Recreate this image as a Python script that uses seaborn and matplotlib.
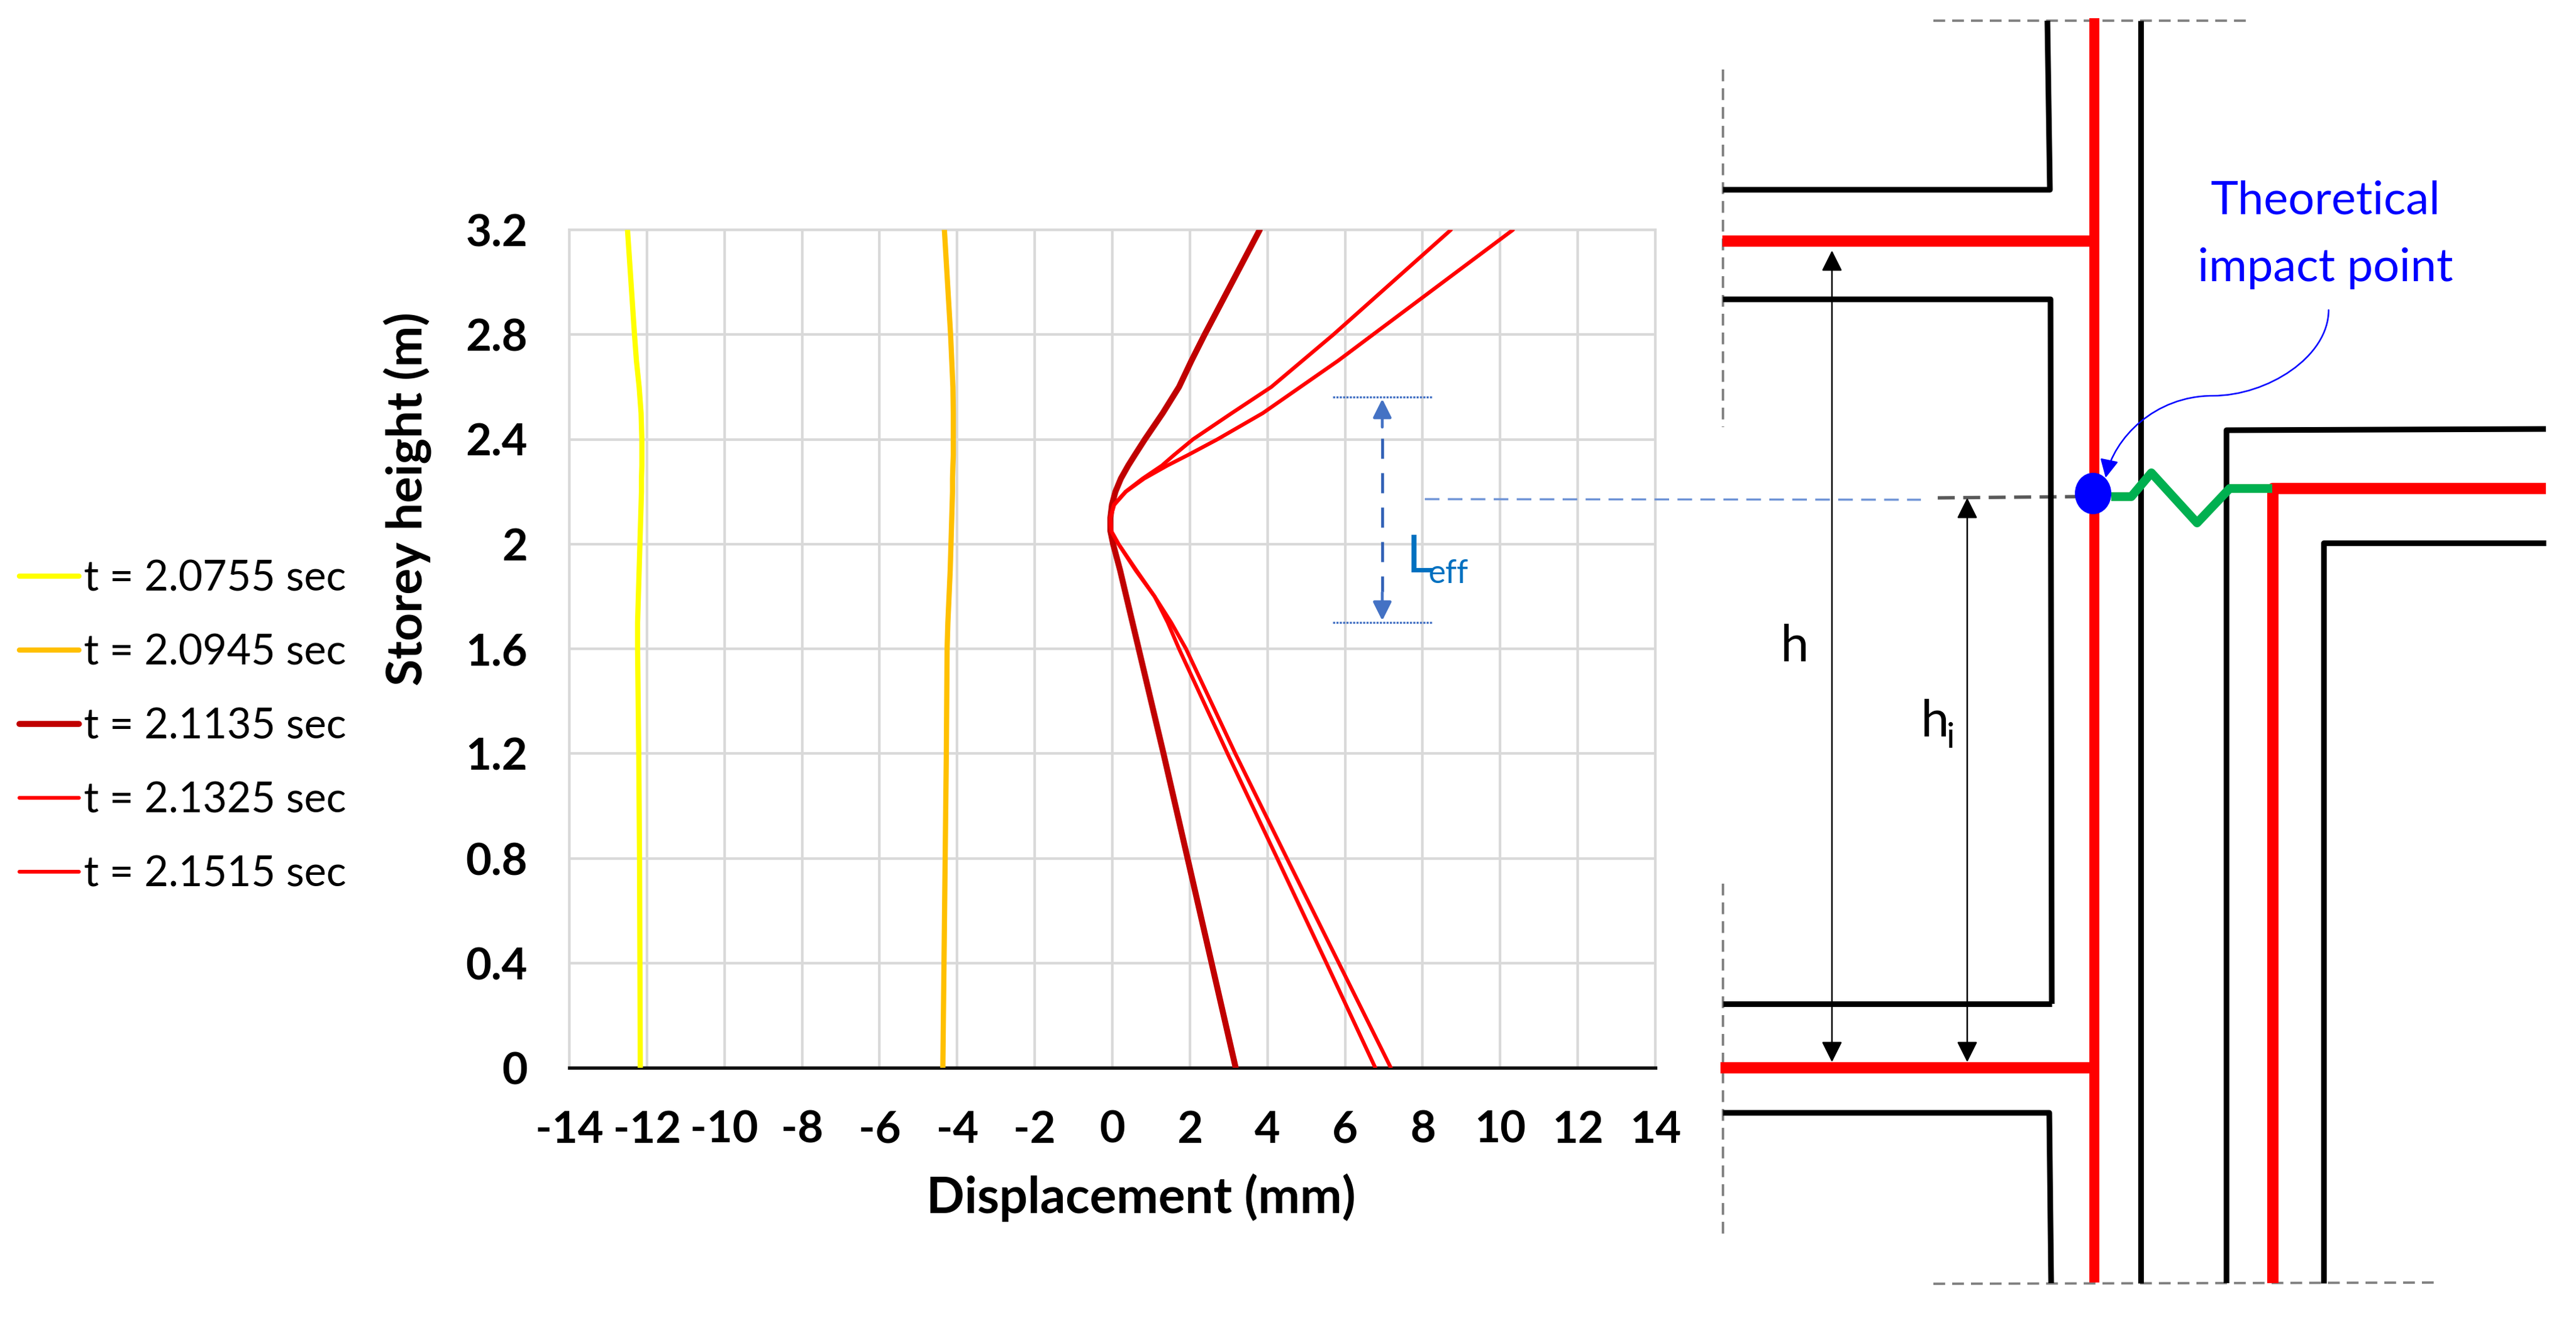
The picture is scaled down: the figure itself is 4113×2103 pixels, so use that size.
import pandas as pd
import matplotlib
matplotlib.use('Agg')
import matplotlib.pyplot as plt
from matplotlib.patches import Ellipse, FancyArrowPatch, Path
import seaborn as sns

# datos
heights = [3.2, 2.8, 2.7, 2.6, 2.5, 2.4, 2.34, 2.3, 2.25, 2.2, 2.15, 2.1, 2.05, 2.0, 1.9, 1.8, 1.7, 1.6, 1.2, 0.8, 0.4, 0]
disp_20755 = [-12.5, -12.32, -12.27, -12.2, -12.15, -12.13, -12.13, -12.13, -12.14, -12.14, -12.15, -12.16, -12.17, -12.18, -12.2, -12.22, -12.24, -12.24, -12.21, -12.19, -12.18, -12.17]
disp_20945 = [-4.33, -4.17, -4.14, -4.11, -4.1, -4.1, -4.1, -4.11, -4.12, -4.12, -4.13, -4.14, -4.15, -4.16, -4.18, -4.21, -4.24, -4.26, -4.28, -4.31, -4.34, -4.37]
disp_21135 = [3.8, 2.38, 2.04, 1.72, 1.3, 0.84, 0.58, 0.41, 0.22, 0.08, -0.01, -0.05, -0.05, 0.02, 0.2, 0.36, 0.52, 0.68, 1.32, 1.94, 2.56, 3.18]
disp_21325 = [8.73, 5.7, 4.9, 4.1, 3.08, 2.08, 1.59, 1.28, 0.78, 0.34, 0.04, -0.05, -0.03, 0.16, 0.6, 1.09, 1.43, 1.72, 2.97, 4.25, 5.52, 6.78]
disp_21515 = [10.33, 6.72, 5.82, 4.85, 3.88, 2.71, 1.95, 1.42, 0.82, 0.35, 0.05, -0.05, -0.03, 0.16, 0.62, 1.09, 1.52, 1.9, 3.17, 4.5, 5.84, 7.18]

series_labels = ['t = 2.0755 sec', 't = 2.0945 sec', 't = 2.1135 sec', 't = 2.1325 sec', 't = 2.1515 sec']
series_colors = ['#FFFF00', '#FFC000', '#C00000', '#FF0000', '#FF0000']
series_widths = [2.0, 2.0, 2.3, 1.45, 1.45]

x_ticks = list(range(-14, 15, 2))
y_ticks = [0, 0.4, 0.8, 1.2, 1.6, 2, 2.4, 2.8, 3.2]
y_tick_labels = ['0', '0.4', '0.8', '1.2', '1.6', '2', '2.4', '2.8', '3.2']

W, H = 4113, 2103
sns.set_style('whitegrid', {'grid.color': '#D9D9D9', 'axes.edgecolor': '#D9D9D9'})
plt.rcParams['font.family'] = ['Lato', 'DejaVu Sans']
plt.rcParams['axes.unicode_minus'] = False

fig = plt.figure(figsize=(W / 300, H / 300), dpi=300)
# ejes de la grafica, colocados en pixeles de la imagen
ax = fig.add_axes([909 / W, 1 - 1705 / H, (2643 - 909) / W, (1705 - 367) / H])

all_disp = [disp_20755, disp_20945, disp_21135, disp_21325, disp_21515]
for d, lab, c, lw in zip(all_disp, series_labels, series_colors, series_widths):
    df = pd.DataFrame({'disp': d, 'height': heights})
    sns.lineplot(data=df, x='disp', y='height', sort=False, estimator=None, color=c, lw=lw,
                 label=lab, ax=ax, zorder=3, solid_joinstyle='round')

ax.set_xlim(-14, 14)
ax.set_ylim(0, 3.2)
ax.set_xticks(x_ticks)
ax.set_xticklabels([str(v) for v in x_ticks])
ax.set_yticks(y_ticks)
ax.set_yticklabels(y_tick_labels)
ax.grid(True, lw=1.0)
ax.tick_params(axis='both', length=0, labelsize=17)
ax.tick_params(axis='x', pad=16)
ax.tick_params(axis='y', pad=16)
for t in ax.get_xticklabels() + ax.get_yticklabels():
    t.set_fontweight('bold')
    t.set_color('black')
for s in ['left', 'right', 'top']:
    ax.spines[s].set_linewidth(1.0)
ax.spines['bottom'].set_color('#111111')
ax.spines['bottom'].set_linewidth(1.3)

ax.set_xlabel('Displacement (mm)', fontsize=19.2, fontweight='bold', color='black', ha='center', va='center')
ax.set_ylabel('Storey height (m)', fontsize=18.8, fontweight='bold', color='black', ha='center', va='center')
ax.xaxis.set_label_coords((1822 - 909) / 1734, -(1912 - 1705) / 1338)
ax.yaxis.set_label_coords((651 - 909) / 1734, 1 - (797 - 367) / 1338)

leg = ax.legend(loc='upper left', bbox_to_anchor=(31 / W, 1 - 893 / H), bbox_transform=fig.transFigure,
                frameon=False, fontsize=16, handlelength=1.42, handletextpad=0.12, labelspacing=0.84,
                borderpad=0, borderaxespad=0)
for t in leg.get_texts():
    t.set_color('black')

# esquema estructural, dibujado en pixeles de la imagen
ov = fig.add_axes([0, 0, 1, 1], zorder=5)
ov.set_xlim(0, W)
ov.set_ylim(H, 0)
ov.axis('off')
ov.patch.set_alpha(0)
PX = 0.24


def seg(xs, ys, color='black', px=9, **kw):
    ov.plot(xs, ys, color=color, lw=px * PX, solid_capstyle=kw.pop('cap', 'butt'), **kw)


# lineas grises de corte
for xs, ys in [([3087, 3590], [33, 33]), ([3087, 3891], [2050, 2048]),
               ([2751, 2751], [111, 682]), ([2751, 2751], [1411, 1981])]:
    ov.plot(xs, ys, color='#7F7F7F', lw=0.9, ls=(0, (5, 3)))
ov.plot([3094, 3317], [795, 793], color='#595959', lw=1.3, ls=(0, (5, 2.5)))
ov.plot([2275, 3067], [797, 798], color='#6E93D6', lw=0.8, ls=(0, (7, 4)))

# muros y vigas
seg([3269, 3273, 2751], [33, 303, 303])
seg([2751, 3274, 3276], [478, 478, 1603])
seg([3276, 2751], [1603, 1603])
seg([2751, 3272, 3275], [1777, 1777, 2049])
seg([3418, 3418], [33, 2049])
seg([4065, 3555, 3555], [685, 687, 2049])
seg([4065, 3710, 3710], [867, 867, 2049])
seg([2750, 3344], [385, 385], color='#FF0000', px=18)
seg([2747, 3344], [1705, 1705], color='#FF0000', px=18)
seg([3344, 3344], [29, 2048], color='#FF0000', px=16)
seg([4065, 3629, 3629], [780, 780, 2049], color='#FF0000', px=18)

# muelle e impacto
seg([3371, 3403, 3435, 3508, 3560, 3628], [793, 793, 755, 835, 780, 780], color='#00B050', px=14)
ov.add_patch(Ellipse((3342, 788), 54, 62, color='#0000FF', zorder=6))

# flechas h y hi
for x, top in [(2925, 400), (3141, 795)]:
    ov.annotate('', xy=(x, top), xytext=(x, 1696),
                arrowprops=dict(arrowstyle='<|-|>', color='black', lw=0.6, mutation_scale=17, shrinkA=0, shrinkB=0))
ov.text(2842, 1056, 'h', fontsize=19.5, color='black', va='baseline')
ov.text(3066, 1176, 'h', fontsize=19.5, color='black', va='baseline')
ov.text(3108, 1194, 'i', fontsize=13.5, color='black', va='baseline')

# longitud efectiva
for y in [634, 994]:
    ov.plot([2128, 2286], [y, y], color='#4472C4', lw=0.8, ls=(0, (1, 0.6)))
ov.plot([2207, 2207], [700, 945], color='#2F5FB5', lw=1.1, ls=(0, (7, 5)))
ov.annotate('', xy=(2207, 637), xytext=(2207, 682),
            arrowprops=dict(arrowstyle='-|>', color='#4472C4', lw=1.1, mutation_scale=15, shrinkA=0, shrinkB=0))
ov.annotate('', xy=(2207, 991), xytext=(2207, 946),
            arrowprops=dict(arrowstyle='-|>', color='#4472C4', lw=1.1, mutation_scale=15, shrinkA=0, shrinkB=0))
ov.text(2245, 914, 'L', fontsize=20, color='#0070C0', va='baseline')
ov.text(2281, 931, 'eff', fontsize=12.5, color='#0070C0', va='baseline')

# punto teorico de impacto
ov.text(3713, 342, 'Theoretical', fontsize=17.8, color='#0000FF', ha='center', va='baseline')
ov.text(3713, 449, 'impact point', fontsize=17.8, color='#0000FF', ha='center', va='baseline')
curve = Path([(3718, 495), (3718, 570), (3620, 632), (3533, 632), (3440, 632), (3375, 700), (3362, 763)],
             [Path.MOVETO, Path.CURVE4, Path.CURVE4, Path.CURVE4, Path.CURVE4, Path.CURVE4, Path.CURVE4])
ov.add_patch(FancyArrowPatch(path=curve, arrowstyle='-|>', mutation_scale=15, color='#0000FF', lw=0.6, zorder=7))

plt.savefig('out.png', dpi=300)
